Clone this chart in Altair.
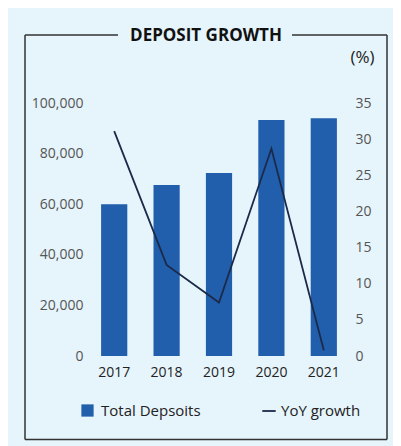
import altair as alt
import pandas as pd

years = ["2017", "2018", "2019", "2020", "2021"]
deposits = [60000, 67600, 72300, 93300, 94000]
yoy = [31.1, 12.6, 7.4, 28.7, 0.8]

BG = "#E6F4FB"
BAR = "#215EAB"
LINE = "#1B2A4A"
FONT = "Open Sans"

df = pd.DataFrame({"year": years, "deposits": deposits, "yoy": yoy})
df["s1"] = "Total Depsoits"
df["s2"] = "YoY growth"

x = alt.X("year:N", title=None, sort=years,
          scale=alt.Scale(paddingInner=0.5, paddingOuter=0.25),
          axis=alt.Axis(labelAngle=0, ticks=False, domain=False, labelPadding=9,
                        labelFontSize=14, labelColor="#222", labelFont=FONT))

bars = alt.Chart(df).mark_bar(color=BAR).encode(
    x=x,
    y=alt.Y("deposits:Q", title=None,
            scale=alt.Scale(domain=[0, 100000], nice=False),
            axis=alt.Axis(values=[0, 20000, 40000, 60000, 80000, 100000], format=",.0f",
                          ticks=False, domain=False, grid=False, labelPadding=5,
                          labelFontSize=14, labelColor="#555", labelFont=FONT)),
    color=alt.Color("s1:N", title=None,
                    scale=alt.Scale(domain=["Total Depsoits"], range=[BAR]),
                    legend=alt.Legend(orient="none", legendX=-8, legendY=300,
                                      symbolType="square", symbolSize=150,
                                      symbolStrokeWidth=0, labelFontSize=15,
                                      labelFont=FONT, labelColor="#222",
                                      padding=0, labelOffset=6)),
)

line = alt.Chart(df).mark_line(strokeWidth=1.8).encode(
    x=x,
    y=alt.Y("yoy:Q", title="(%)",
            scale=alt.Scale(domain=[0, 35], nice=False),
            axis=alt.Axis(orient="right", values=[0, 5, 10, 15, 20, 25, 30, 35],
                          ticks=False, domain=False, grid=False, labelPadding=5,
                          labelFontSize=14, labelColor="#555", labelFont=FONT,
                          titleAngle=0, titleX=12, titleY=-46, titleAlign="center",
                          titleBaseline="middle", titleFontSize=17, titleFontWeight="normal",
                          titleColor="#222", titleFont=FONT)),
    stroke=alt.Stroke("s2:N", title=None,
                      scale=alt.Scale(domain=["YoY growth"], range=[LINE]),
                      legend=alt.Legend(orient="none", legendX=173, legendY=300,
                                        symbolType="stroke", symbolSize=180,
                                        symbolStrokeWidth=1.8, labelFontSize=15,
                                        labelFont=FONT, labelColor="#222",
                                        padding=0, labelOffset=4)),
)

one = pd.DataFrame({"k": [0]})
frame_col = "#333333"
def seg(x1, x2, y1, y2):
    return alt.Chart(one).mark_rule(color=frame_col, strokeWidth=1.5).encode(
        x=alt.value(x1), x2=alt.value(x2), y=alt.value(y1), y2=alt.value(y2))

frame = [
    seg(-63, 30, -68, -68),
    seg(204, 299, -68, -68),
    seg(-63, -63, -68, 336.5),
    seg(299, 299, -68, 336.5),
    seg(-63, 299, 336.5, 336.5),
]

title = alt.Chart(one).mark_text(
    text="DEPOSIT GROWTH", font=FONT, fontSize=17, fontWeight="bold",
    color="#111", align="center", baseline="middle").encode(
    x=alt.value(118), y=alt.value(-67.5))

chart = alt.layer(bars, line, *frame, title).resolve_scale(
    y="independent", color="independent"
).properties(
    width=262, height=253,
    background=BG,
    padding={"left": 80, "top": 95, "right": 43, "bottom": 90},
    autosize=alt.AutoSizeParams(type="none"),
).configure_view(stroke=None)

chart.save("out.html", embed_options={"renderer": "svg", "actions": False})
